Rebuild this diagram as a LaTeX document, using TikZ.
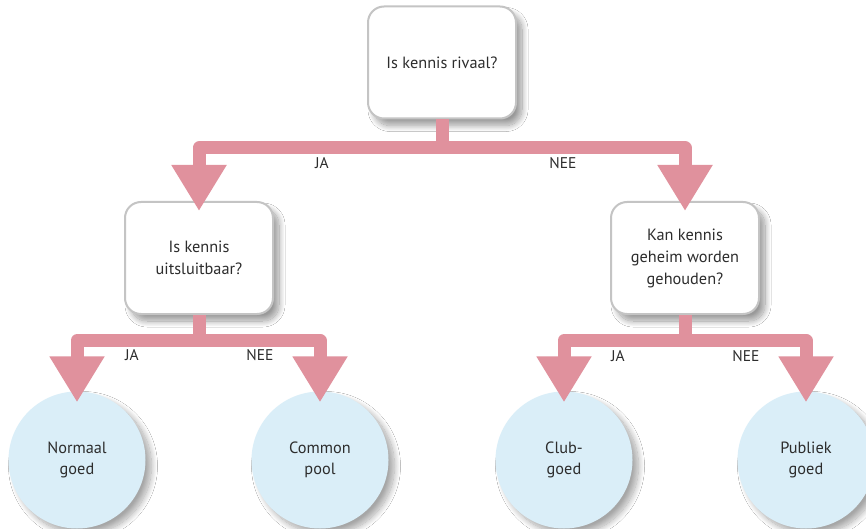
\documentclass[tikz,border=0pt]{standalone}
\usepackage{fontspec}
\setmainfont{PT Sans}
\usetikzlibrary{arrows.meta,shadows.blur}
\definecolor{barc}{RGB}{224,145,157}
\definecolor{leafc}{RGB}{218,238,248}
\definecolor{boxline}{RGB}{196,196,196}
\definecolor{txt}{RGB}{45,45,45}
\begin{document}
\begin{tikzpicture}[x=1pt,y=-1pt,
  qbox/.style={draw=boxline, line width=2pt, fill=white, rounded corners=16pt,
    minimum width=148pt, minimum height=112pt, align=center, text=txt,
    font=\fontsize{16.3}{22}\selectfont,
    blur shadow={shadow xshift=6pt, shadow yshift=-7pt, shadow blur steps=15,
      shadow opacity=40, shadow blur radius=6pt}},
  leaf/.style={circle, fill=leafc, minimum size=137pt, inner sep=0pt, align=center,
    text=txt, font=\fontsize{16.3}{21}\selectfont,
    blur shadow={shadow xshift=6pt, shadow yshift=-6pt, shadow blur steps=15,
      shadow opacity=35, shadow blur radius=6pt}},
  conn/.style={draw=barc, line width=13pt, line join=round,
    -{Triangle[width=52pt,length=46pt]}},
  lab/.style={text=txt, inner sep=0pt, font=\fontsize{15.5}{18}\selectfont}]
\clip (0,0) rectangle (866,529);
\fill[white] (0,0) rectangle (866,529);

\node[qbox] (top) at (442,62.5) {Is kennis rivaal?};
\node[qbox] (l) at (199,258) {Is kennis\\uitsluitbaar?};
\node[qbox] (r) at (685,258) {Kan kennis\\geheim worden\\gehouden?};

\node[leaf] (c1) at (77,460) {Normaal\\goed};
\node[leaf] (c2) at (320,460) {Common\\pool};
\node[leaf] (c3) at (564,460) {Club-\\goed};
\node[leaf] (c4) at (806,460) {Publiek\\goed};

\coordinate (jt) at (442,148);
\coordinate (jl) at (199,340.5);
\coordinate (jr) at (685,340.5);

\draw[conn] (top.south) -- (top.south |- jt) -| ([yshift=-10pt]l.north);
\draw[conn] (top.south) -- (top.south |- jt) -| ([yshift=-10pt]r.north);
\draw[conn] (l.south) -- (l.south |- jl) -| ([yshift=-11pt]c1.north);
\draw[conn] (l.south) -- (l.south |- jl) -| ([yshift=-11pt]c2.north);
\draw[conn] (r.south) -- (r.south |- jr) -| ([yshift=-11pt]c3.north);
\draw[conn] (r.south) -- (r.south |- jr) -| ([yshift=-11pt]c4.north);

\node[lab] (ja1) at (322,163) {JA};
\node[lab] (nee1) at (563,163) {NEE};
\node[lab] (ja2) at (132,355) {JA};
\node[lab] (nee2) at (260,355) {NEE};
\node[lab] (ja3) at (618,356) {JA};
\node[lab] (nee3) at (746,356) {NEE};
\end{tikzpicture}
\end{document}
